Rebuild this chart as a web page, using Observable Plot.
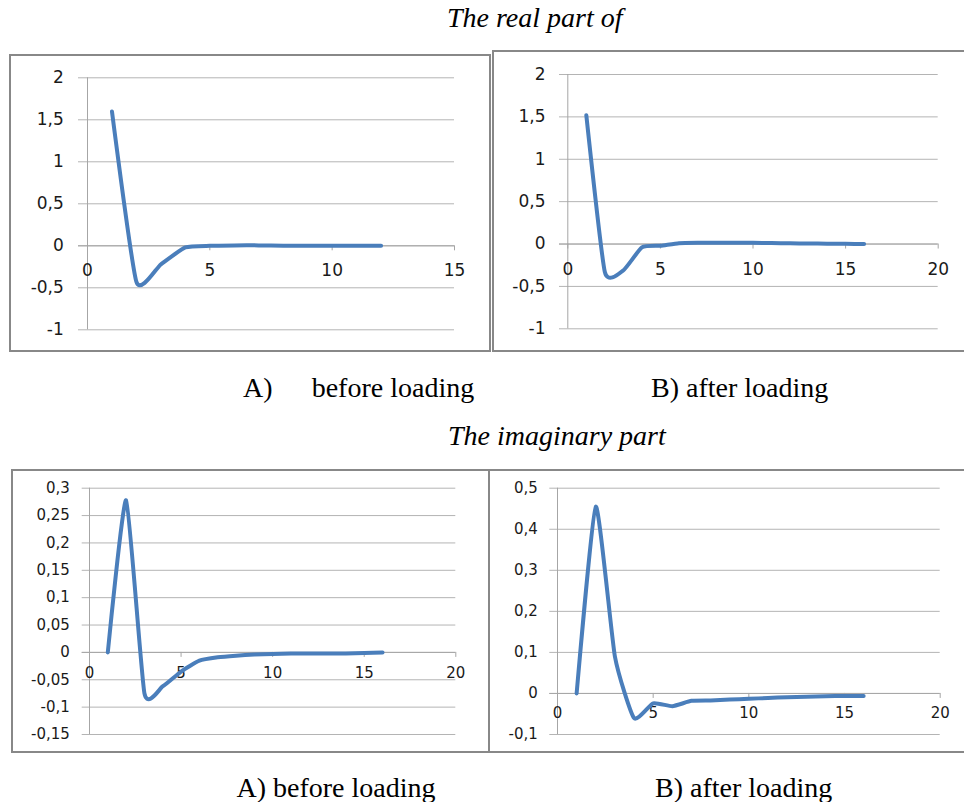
<!DOCTYPE html>
<html><head><meta charset="utf-8">
<script src="https://cdn.jsdelivr.net/npm/d3@7"></script>
<script src="https://cdn.jsdelivr.net/npm/@observablehq/plot@0.6"></script>
<style>
body{margin:0;background:#fff;}
#page{position:relative;width:964px;height:802px;overflow:hidden;font-family:"Liberation Serif","Times New Roman",serif;color:#000;}
.cap{position:absolute;font-size:28px;line-height:28px;white-space:pre;}
.it{font-style:italic;}
.panel{position:absolute;border:2px solid #888888;box-sizing:border-box;background:#fff;}
.panel svg{display:block;overflow:visible;}
</style></head><body><div id="page"></div>
<script>
// ---- data ----
const xReal12 = [1,2,3,4,5,6,7,8,9,10,11,12];
const x16 = [1,2,3,4,5,6,7,8,9,10,11,12,13,14,15,16];
const realBefore = [1.6,-0.43,-0.22,-0.02,0,0.005,0.005,0,0,0,0,0];
const realAfter = [1.52,-0.33,-0.31,-0.04,-0.02,0.01,0.015,0.015,0.015,0.015,0.012,0.008,0.006,0.004,0.002,0];
const imagBefore = [0,0.278,-0.075,-0.062,-0.035,-0.015,-0.009,-0.006,-0.004,-0.003,-0.002,-0.002,-0.002,-0.002,-0.001,0];
const imagAfter = [0,0.455,0.09,-0.06,-0.024,-0.031,-0.018,-0.017,-0.015,-0.013,-0.011,-0.009,-0.008,-0.007,-0.006,-0.006];

const xTicks15 = [0,5,10,15];
const xTicks20 = [0,5,10,15,20];
const yTicksRealA = [-1,-0.5,0,0.5,1,1.5,2];
const yTicksRealB = [-1,-0.5,0,0.5,1,1.5,2];
const yTicksImagA = [-0.15,-0.1,-0.05,0,0.05,0.1,0.15,0.2,0.25,0.3];
const yTicksImagB = [-0.1,0,0.1,0.2,0.3,0.4,0.5];

const titles = ["The real part of", "The imaginary part"];
const captions = ["A)", "before loading", "B) after loading", "A) before loading", "B) after loading"];

const fmt = d => String(+d.toFixed(3)).replace(".", ",");

function makePanel(o) {
  const data = o.xs.map((x, i) => ({x, y: o.ys[i]}));
  return Plot.plot({
    width: o.w, height: o.h,
    marginLeft: o.ml, marginRight: o.mr, marginTop: o.mt, marginBottom: o.mb,
    x: {domain: [o.xTicks[0], o.xTicks[o.xTicks.length - 1]], axis: null},
    y: {domain: [o.yTicks[0], o.yTicks[o.yTicks.length - 1]], axis: null},
    style: {fontFamily: "DejaVu Sans", fontSize: o.fs + "px", color: "#1a1a1a", background: "#fff", overflow: "visible"},
    marks: [
      Plot.ruleY(o.yTicks, {stroke: "#b4b4b4", insetLeft: -o.ext}),
      Plot.axisY(o.yTicks, {anchor: "left", label: null, tickSize: 0, tickPadding: o.pad, tickFormat: fmt, fontSize: o.fs}),
      Plot.ruleX([0], {stroke: "#a6a6a6"}),
      Plot.ruleY([0], {stroke: "#a6a6a6", insetLeft: -o.ext}),
      Plot.ruleX(o.xTicks, {x: d => d, y1: 0, y2: 0, insetBottom: -5, stroke: "#a6a6a6"}),
      Plot.text(o.xTicks, {x: d => d, y: 0, dy: o.xdy, text: d => String(d), fontSize: o.fs}),
      Plot.line(data, {x: "x", y: "y", curve: "cardinal", tension: 0.5, stroke: "#4a7ebb", strokeWidth: 4, strokeLinecap: "round", strokeLinejoin: "round"})
    ]
  });
}

const page = document.getElementById("page");
function addPanel(box, opts) {
  const div = document.createElement("div");
  div.className = "panel";
  Object.assign(div.style, {left: box.l + "px", top: box.t + "px", width: box.w + "px", height: box.h + "px"});
  div.appendChild(makePanel({...opts, w: box.w - 4, h: box.h - 4}));
  page.appendChild(div);
}
function addText(t, l, baseline, cls) {
  const d = document.createElement("div");
  d.className = "cap " + (cls || "");
  d.textContent = t;
  d.style.left = l + "px";
  d.style.top = (baseline - 23.5) + "px";
  page.appendChild(d);
}

addPanel({l: 9, t: 54, w: 482, h: 298},
  {xs: xReal12, ys: realBefore, xTicks: xTicks15, yTicks: yTicksRealA, ml: 76, mr: 35, mt: 21.3, mb: 20.7, fs: 17, ext: 9, pad: 23.7, xdy: 25});
addPanel({l: 492, t: 50, w: 476, h: 302},
  {xs: x16, ys: realAfter, xTicks: xTicks20, yTicks: yTicksRealB, ml: 73.3, mr: 28.3, mt: 22, mb: 21.7, fs: 17, ext: 8.3, pad: 22.3, xdy: 26});
addPanel({l: 11, t: 469, w: 479, h: 284},
  {xs: x16, ys: imagBefore, xTicks: xTicks20, yTicks: yTicksImagA, ml: 76, mr: 32.7, mt: 16.7, mb: 17, fs: 15, ext: 7.3, pad: 19.7, xdy: 21});
addPanel({l: 488, t: 469, w: 480, h: 284},
  {xs: x16, ys: imagAfter, xTicks: xTicks20, yTicks: yTicksImagB, ml: 67, mr: 26.3, mt: 16.7, mb: 17, fs: 15, ext: 7.7, pad: 19.7, xdy: 20});

addText(titles[0], 447, 27, "it");
addText(captions[0], 243, 397);
addText(captions[1], 311.7, 397);
addText(captions[2], 651, 397);
addText(titles[1], 448, 445, "it");
addText(captions[3], 236.5, 797);
addText(captions[4], 655, 797);
</script>
</body></html>
